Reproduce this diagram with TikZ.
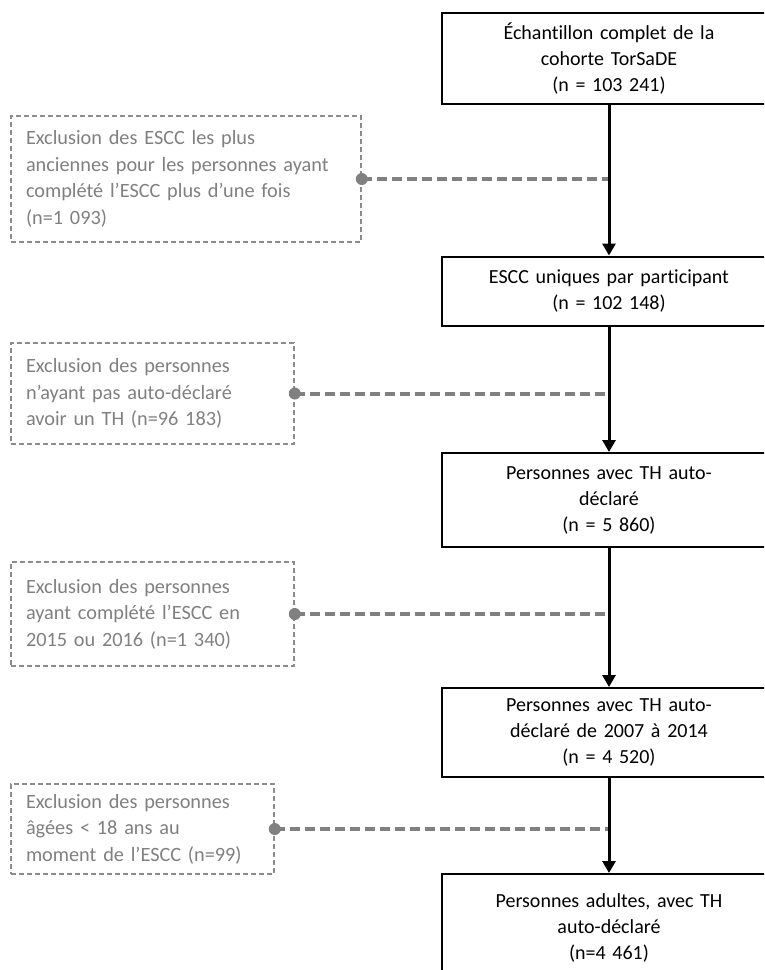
\documentclass[tikz,border=0pt]{standalone}
\usepackage{fontspec}
\setmainfont{Carlito}[Ligatures={NoCommon}]
\usetikzlibrary{arrows.meta}
\definecolor{exgray}{RGB}{128,128,128}
\definecolor{exborder}{RGB}{140,140,140}
\begin{document}
\begin{tikzpicture}[x=1pt,y=-1pt,
  mainbox/.style={draw=black, line width=2pt, fill=white, text width=320pt, align=center,
    inner xsep=7pt, inner ysep=0pt, font=\fontsize{20pt}{26pt}\selectfont},
  exclbox/.style={draw=exborder, line width=1.5pt, dash pattern=on 5pt off 3pt, text=exgray,
    align=left, inner xsep=15pt, inner ysep=0pt, font=\fontsize{20.3pt}{26.5pt}\selectfont},
  flow/.style={line width=3pt, -{Triangle[width=13pt,length=12pt]}},
  exclline/.style={draw=exgray, line width=4pt, dash pattern=on 10pt off 5pt},
  exdot/.style={circle, fill=exgray, inner sep=0pt, minimum size=12pt}
]
\useasboundingbox (0,0) rectangle (764,970);
\clip (0,0) rectangle (764,970);

% main boxes
\node[mainbox, minimum height=91pt] (b1) at (609,58.5)
  {Échantillon complet de la\\cohorte TorSaDE\\(n = 103 241)};
\node[mainbox, minimum height=69pt] (b2) at (609,291)
  {ESCC uniques par participant\\(n = 102 148)};
\node[mainbox, minimum height=94pt] (b3) at (609,500)
  {Personnes avec TH auto-\\déclaré\\(n = 5 860)};
\node[mainbox, minimum height=89pt] (b4) at (609,732.5)
  {Personnes avec TH auto-\\déclaré de 2007 à 2014\\(n = 4 520)};
\node[mainbox, minimum height=108pt] (b5) at (609,928)
  {Personnes adultes, avec TH\\auto-déclaré\\(n=4 461)};

% exclusion boxes
\node[exclbox, text width=320pt, minimum height=126pt] (e1) at (186,179)
  {Exclusion des ESCC les plus\\anciennes pour les personnes ayant\\complété l’ESCC plus d’une fois\\(n=1 093)};
\node[exclbox, text width=253pt, minimum height=101pt] (e2) at (152.5,393.5)
  {Exclusion des personnes\\n’ayant pas auto-déclaré\\avoir un TH (n=96 183)};
\node[exclbox, text width=253pt, minimum height=104pt] (e3) at (152.5,614)
  {Exclusion des personnes\\ayant complété l’ESCC en\\2015 ou 2016 (n=1 340)};
\node[exclbox, text width=233pt, minimum height=90pt] (e4) at (142.5,829)
  {Exclusion des personnes\\âgées \textless{} 18 ans au\\moment de l’ESCC (n=99)};

% dashed exclusion connectors
\draw[exclline] (e1.east) -- (e1.east -| b1.south);
\draw[exclline] (e2.east) -- (e2.east -| b2.south);
\draw[exclline] (e3.east) -- (e3.east -| b3.south);
\draw[exclline] (e4.east) -- (e4.east -| b4.south);
\node[exdot] (d1) at (e1.east) {};
\node[exdot] (d2) at (e2.east) {};
\node[exdot] (d3) at (e3.east) {};
\node[exdot] (d4) at (e4.east) {};

% main flow
\draw[flow] (b1.south) -- (b2.north);
\draw[flow] (b2.south) -- (b3.north);
\draw[flow] (b3.south) -- (b4.north);
\draw[flow] (b4.south) -- (b5.north);
\end{tikzpicture}
\end{document}
